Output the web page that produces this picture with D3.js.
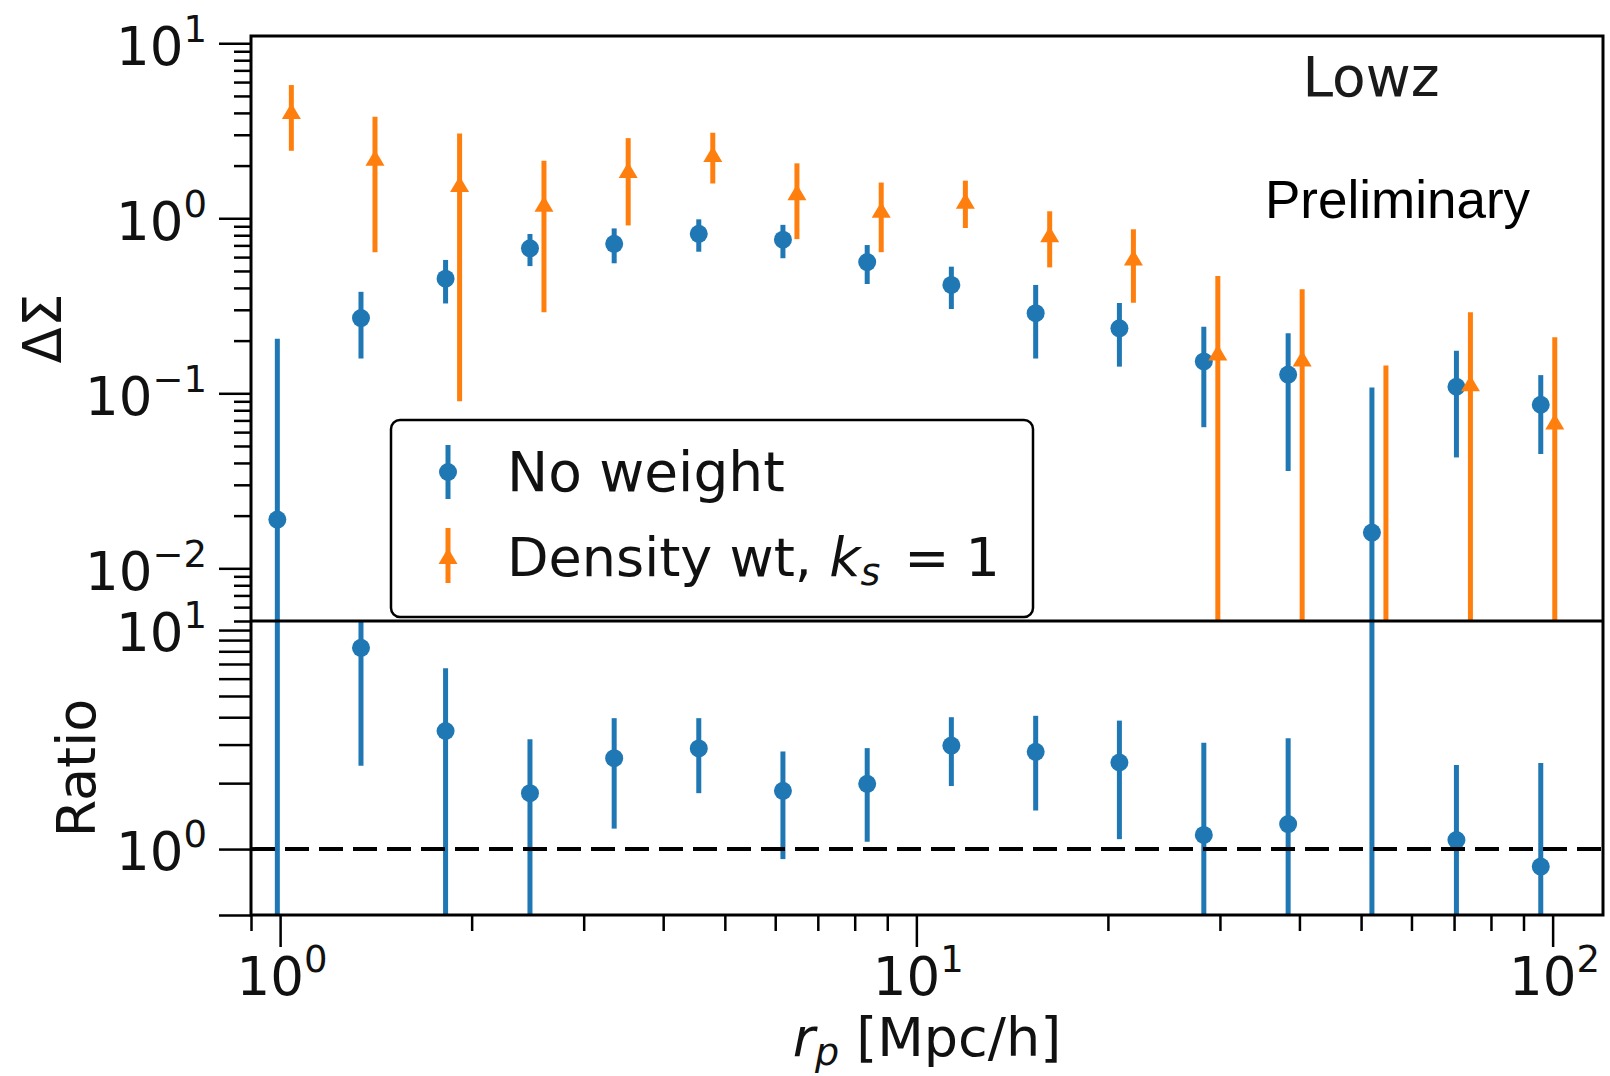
<!DOCTYPE html>
<html>
<head>
<meta charset="utf-8">
<script src="https://cdn.jsdelivr.net/npm/d3@7"></script>
<style>
  body { margin: 0; background: #fff; }
  svg { display: block; }
  text { font-family: "DejaVu Sans", sans-serif; fill: #111; }
</style>
</head>
<body>
<svg id="chart" width="1610" height="1076"></svg>
<script>
// Projected separation bins r_p [Mpc/h]
const rp = [0.99, 1.34, 1.82, 2.47, 3.35, 4.55, 6.17, 8.37, 11.35, 15.4, 20.85, 28.3, 38.4, 52.0, 70.6, 95.8];

// Delta Sigma, unweighted lenses (value and 1-sigma error)
const noWeight    = [0.019, 0.269, 0.452, 0.673, 0.714, 0.815, 0.754, 0.562, 0.416, 0.287, 0.235, 0.152, 0.128, 0.016, 0.109, 0.086];
const noWeightErr = [0.186, 0.111, 0.126, 0.140, 0.161, 0.171, 0.163, 0.141, 0.113, 0.129, 0.093, 0.088, 0.092, 0.092, 0.066, 0.041];

// Delta Sigma, density-weighted lenses (k_s = 1)
const densityWt    = [4.10, 2.22, 1.57, 1.21, 1.89, 2.33, 1.41, 1.12, 1.26, 0.81, 0.597, 0.171, 0.158, -0.05, 0.114, 0.069];
const densityWtErr = [1.67, 1.58, 1.48, 0.92, 0.98, 0.75, 0.65, 0.48, 0.38, 0.286, 0.268, 0.297, 0.235, 0.194, 0.176, 0.140];

// Ratio density-weighted / unweighted
const ratio    = [216, 8.3, 3.46, 1.80, 2.60, 2.88, 1.845, 1.985, 2.97, 2.78, 2.485, 1.16, 1.30, -3.0, 1.10, 0.832];
const ratioErr = [2150, 5.9, 3.23, 1.37, 1.36, 1.08, 0.945, 0.905, 1.03, 1.28, 1.375, 1.90, 1.91, 20.0, 1.32, 1.64];

// Axis ticks
const xMajorTicks = [1, 10, 100];
const xMinorTicks = [0.9, 2, 3, 4, 5, 6, 7, 8, 9, 20, 30, 40, 50, 60, 70, 80, 90];
const topMajorTicks = [10, 1, 0.1, 0.01];
const topMinorTicks = [0.005, 0.006, 0.007, 0.008, 0.009,
  0.02, 0.03, 0.04, 0.05, 0.06, 0.07, 0.08, 0.09,
  0.2, 0.3, 0.4, 0.5, 0.6, 0.7, 0.8, 0.9,
  2, 3, 4, 5, 6, 7, 8, 9];
const ratioMajorTicks = [10, 1];
const ratioMinorTicks = [0.5, 2, 3, 4, 5, 6, 7, 8, 9];

const BLUE = "#1f77b4", ORANGE = "#ff7f0e";
const DODGE = 1.052;           // horizontal offset of the weighted series

const svg = d3.select("#chart");
const L = 251, R = 1603, T = 36, MID = 621, B = 915;

const x = d3.scaleLog().domain([0.9, 120]).range([L, R]);
const yTop = d3.scaleLog().domain([0.005, 11]).range([MID, T]);
const yBot = d3.scaleLog().domain([0.5, 11]).range([B, MID]);

// clip regions for each panel
const defs = svg.append("defs");
defs.append("clipPath").attr("id", "clipTop").append("rect")
  .attr("x", L).attr("y", T).attr("width", R - L).attr("height", MID - T);
defs.append("clipPath").attr("id", "clipBot").append("rect")
  .attr("x", L).attr("y", MID).attr("width", R - L).attr("height", B - MID);

function triPath(w, h) {
  return `M0,${-h / 2}L${w / 2},${h / 2}L${-w / 2},${h / 2}Z`;
}

function drawSeries(g, yScale, xs, vals, errs, color, shape, floorY) {
  const pts = xs.map((xv, i) => ({ x: xv, v: vals[i], e: errs[i] }));
  g.selectAll(null).data(pts).enter().append("line")
    .attr("x1", d => x(d.x)).attr("x2", d => x(d.x))
    .attr("y1", d => yScale(d.v + d.e))
    .attr("y2", d => (d.v - d.e) > 0 ? yScale(d.v - d.e) : floorY + 20)
    .attr("stroke", color).attr("stroke-width", 5);
  const shown = pts.filter(d => d.v > 0);
  if (shape === "circle") {
    g.selectAll(null).data(shown).enter().append("circle")
      .attr("cx", d => x(d.x)).attr("cy", d => yScale(d.v)).attr("r", 9)
      .attr("fill", color);
  } else {
    g.selectAll(null).data(shown).enter().append("path")
      .attr("d", triPath(19, 16))
      .attr("transform", d => `translate(${x(d.x)},${yScale(d.v)})`)
      .attr("fill", color);
  }
}

// ---- top panel: Delta Sigma ----
const gTop = svg.append("g").attr("clip-path", "url(#clipTop)");
drawSeries(gTop, yTop, rp, noWeight, noWeightErr, BLUE, "circle", MID);
drawSeries(gTop, yTop, rp.map(r => r * DODGE), densityWt, densityWtErr, ORANGE, "triangle", MID);

// ---- bottom panel: ratio ----
const gBot = svg.append("g").attr("clip-path", "url(#clipBot)");
drawSeries(gBot, yBot, rp, ratio, ratioErr, BLUE, "circle", B);
gBot.append("line")
  .attr("x1", L).attr("x2", R).attr("y1", yBot(1)).attr("y2", yBot(1))
  .attr("stroke", "#000").attr("stroke-width", 4).attr("stroke-dasharray", "24,10");

// ---- axes ----
function styleAxis(sel) {
  sel.select(".domain").remove();
  sel.selectAll(".tick line").attr("stroke", "#000").attr("stroke-width", 2.5);
  sel.selectAll(".tick text").remove();
}
svg.append("g").attr("transform", `translate(${L},0)`)
  .call(d3.axisLeft(yTop).tickValues(topMajorTicks).tickSize(32).tickFormat(""))
  .call(styleAxis);
svg.append("g").attr("transform", `translate(${L},0)`)
  .call(d3.axisLeft(yTop).tickValues(topMinorTicks).tickSize(17).tickFormat(""))
  .call(styleAxis);
svg.append("g").attr("transform", `translate(${L},0)`)
  .call(d3.axisLeft(yBot).tickValues(ratioMajorTicks.concat(ratioMinorTicks)).tickSize(32).tickFormat(""))
  .call(styleAxis);
svg.append("g").attr("transform", `translate(0,${B})`)
  .call(d3.axisBottom(x).tickValues(xMajorTicks).tickSize(32).tickFormat(""))
  .call(styleAxis);
svg.append("g").attr("transform", `translate(0,${B})`)
  .call(d3.axisBottom(x).tickValues(xMinorTicks).tickSize(16).tickFormat(""))
  .call(styleAxis);

// power-of-ten labels
function powLabel(xp, yp, v, anchor) {
  const e = Math.round(Math.log10(v));
  const t = svg.append("text").attr("x", xp).attr("y", yp)
    .attr("text-anchor", anchor).attr("font-size", 53);
  t.append("tspan").text("10");
  t.append("tspan").attr("dy", -23).attr("font-size", 37)
    .text(e < 0 ? "\u2212" + (-e) : String(e));
}
topMajorTicks.forEach(v => powLabel(207, yTop(v) + 21.5, v, "end"));
ratioMajorTicks.forEach(v => powLabel(207, yBot(v) + 21, v, "end"));
xMajorTicks.forEach(v => powLabel(x(v) + 2, 995, v, "middle"));

// frame
svg.append("rect").attr("x", L).attr("y", T).attr("width", R - L).attr("height", B - T)
  .attr("fill", "none").attr("stroke", "#000").attr("stroke-width", 3);
svg.append("line").attr("x1", L).attr("x2", R).attr("y1", MID).attr("y2", MID)
  .attr("stroke", "#000").attr("stroke-width", 3);

// axis titles
svg.append("text").attr("transform", `translate(61,${(T + MID) / 2}) rotate(-90)`)
  .attr("text-anchor", "middle").attr("font-size", 53).text("\u0394\u03A3");
svg.append("text").attr("transform", `translate(95,${(MID + B) / 2}) rotate(-90)`)
  .attr("text-anchor", "middle").attr("font-size", 54).text("Ratio");
const xl = svg.append("text").attr("x", (L + R) / 2).attr("y", 1056)
  .attr("text-anchor", "middle").attr("font-size", 54);
xl.append("tspan").attr("font-style", "italic").text("r");
xl.append("tspan").attr("font-style", "italic").attr("font-size", 38).attr("dy", 9).text("p");
xl.append("tspan").attr("dy", -9).text(" [Mpc/h]");

// annotations
svg.append("text").attr("x", 1371).attr("y", 96).attr("text-anchor", "middle")
  .attr("font-size", 55).style("fill", "#1a1a1a").text("Lowz");
svg.append("text").attr("x", 1265).attr("y", 218).attr("font-size", 53)
  .style("font-family", "'Liberation Sans', Arial, sans-serif").style("fill", "#000")
  .text("Preliminary");

// legend
const lg = svg.append("g");
lg.append("rect").attr("x", 391).attr("y", 420).attr("width", 642).attr("height", 197)
  .attr("rx", 9).attr("fill", "#fff").attr("stroke", "#000").attr("stroke-width", 2.5);
lg.append("line").attr("x1", 448).attr("x2", 448).attr("y1", 445).attr("y2", 499)
  .attr("stroke", BLUE).attr("stroke-width", 5);
lg.append("circle").attr("cx", 448).attr("cy", 472).attr("r", 9).attr("fill", BLUE);
lg.append("line").attr("x1", 448).attr("x2", 448).attr("y1", 528).attr("y2", 583)
  .attr("stroke", ORANGE).attr("stroke-width", 5);
lg.append("path").attr("d", triPath(19, 16)).attr("transform", "translate(448,556)").attr("fill", ORANGE);
lg.append("text").attr("x", 507).attr("y", 491).attr("font-size", 55).text("No weight");
const l2 = lg.append("text").attr("x", 507).attr("y", 576).attr("font-size", 54);
l2.append("tspan").text("Density wt, ");
l2.append("tspan").attr("font-style", "italic").text("k");
l2.append("tspan").attr("font-style", "italic").attr("font-size", 38).attr("dy", 9).text("s");
l2.append("tspan").attr("dy", -9).attr("dx", 24).text("=");
l2.append("tspan").attr("dx", 16).text("1");
</script>
</body>
</html>
